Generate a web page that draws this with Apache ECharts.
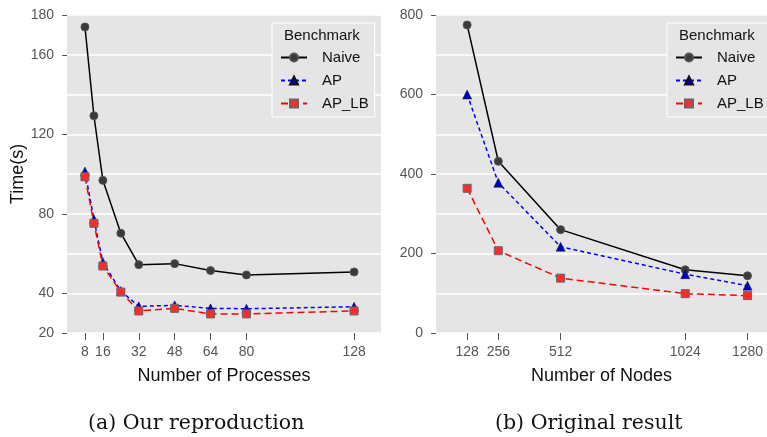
<!DOCTYPE html>
<html>
<head>
<meta charset="utf-8">
<script src="https://cdn.jsdelivr.net/npm/echarts@6/dist/echarts.min.js"></script>
<style>
  html, body { margin: 0; padding: 0; background: #fff; }
  #chart { width: 767px; height: 437px; }
</style>
</head>
<body>
<div id="chart"></div>
<script>
// (a) reproduction: processes vs time
const procX = [8, 12, 16, 24, 32, 48, 64, 80, 128];
const procNaive = [174, 129.3, 96.8, 70.2, 54.4, 54.9, 51.4, 49.2, 50.7];
const procAP = [101.2, 77.2, 55.6, 41.1, 33.4, 33.9, 32.4, 32.2, 33.2];
const procAPLB = [98.6, 75.2, 53.7, 40.6, 31.1, 32.4, 29.6, 29.6, 31.1];
const procTicks = [8, 16, 32, 48, 64, 80, 128];
const timeTicks = [20, 40, 80, 120, 160, 180];

// (b) original: nodes vs time
const nodeX = [128, 256, 512, 1024, 1280];
const nodeNaive = [775, 432, 260, 159, 144];
const nodeAP = [600, 378, 217, 148, 119];
const nodeAPLB = [364, 207, 138, 99, 94];
const nodeTicks = [128, 256, 512, 1024, 1280];
const nodeYTicks = [0, 200, 400, 600, 800];

const names = ['Naive', 'AP', 'AP_LB'];
const font = 'Liberation Sans, Arial, sans-serif';
const tickColor = '#555';

const zip = (xs, ys) => xs.map((x, i) => [x, ys[i]]);

const styles = {
    Naive: {
        symbol: 'circle', symbolSize: 8,
        itemStyle: { color: '#3a3a3a', borderColor: '#555', borderWidth: 1 },
        lineStyle: { color: '#000', width: 1.5, type: 'solid' }
    },
    AP: {
        symbol: 'triangle', symbolSize: 9,
        itemStyle: { color: '#0000cc', borderColor: '#111', borderWidth: 0.5 },
        lineStyle: { color: '#0000ff', width: 1.5, type: [4, 3] }
    },
    AP_LB: {
        symbol: 'rect', symbolSize: 8,
        itemStyle: { color: '#ff2a2a', borderColor: '#666', borderWidth: 1 },
        lineStyle: { color: '#ff0000', width: 1.5, type: [7, 4] }
    }
};

const mkSeries = (name, data, idx) => Object.assign({
    name: name,
    type: 'line',
    xAxisIndex: idx,
    yAxisIndex: idx,
    data: data,
    showAllSymbol: true,
    animation: false
}, styles[name]);

const xAxisBase = (min, max, ticks, name) => ({
    type: 'value',
    min: min,
    max: max,
    name: name,
    nameLocation: 'middle',
    nameGap: 34,
    nameTextStyle: { color: '#111', fontSize: 18, fontFamily: font },
    axisLine: { show: false },
    splitLine: { show: false },
    axisTick: { show: true, customValues: ticks, length: 7, lineStyle: { color: tickColor } },
    axisLabel: { customValues: ticks, color: tickColor, fontSize: 14, fontFamily: font, margin: 12,
                 formatter: v => String(v) }
});

// labelled axis: ticks/labels only at the listed values
const yAxisLabelled = (min, max, interval, ticks, grid) => ({
    type: 'value',
    gridIndex: grid,
    min: min,
    max: max,
    interval: interval,
    axisLine: { show: false },
    splitLine: { show: false },
    axisTick: { show: true, customValues: ticks, length: 5, lineStyle: { color: tickColor } },
    axisLabel: { customValues: ticks, color: tickColor, fontSize: 14, fontFamily: font, margin: 13 }
});

// hidden twin axis that only draws the white grid lines
const yAxisGrid = (min, max, interval, grid) => ({
    type: 'value',
    gridIndex: grid,
    min: min,
    max: max,
    interval: interval,
    axisLine: { show: false },
    axisTick: { show: false },
    axisLabel: { show: false },
    splitLine: { show: true, lineStyle: { color: '#fff', width: 1.5 } }
});

const legendBase = (left) => ({
    left: left,
    top: 23,
    orient: 'vertical',
    data: names,
    itemWidth: 26,
    itemHeight: 10,
    itemGap: 8,
    padding: [27, 6, 6, 8],
    backgroundColor: '#e5e5e5',
    borderColor: '#fff',
    borderWidth: 1,
    textStyle: { color: '#111', fontSize: 15, fontFamily: font, padding: [0, 0, 0, 10] },
    selectedMode: false
});

const chart = echarts.init(document.getElementById('chart'));
chart.setOption({
    backgroundColor: '#fff',
    animation: false,
    grid: [
        { left: 67, top: 15, width: 314, height: 318, backgroundColor: '#e5e5e5', show: true, borderWidth: 0 },
        { left: 436, top: 15, width: 331, height: 318, backgroundColor: '#e5e5e5', show: true, borderWidth: 0 }
    ],
    xAxis: [
        Object.assign(xAxisBase(0, 140, procTicks, 'Number of Processes'), { gridIndex: 0 }),
        Object.assign(xAxisBase(0, 1360, nodeTicks, 'Number of Nodes'), { gridIndex: 1 })
    ],
    yAxis: [
        Object.assign(yAxisLabelled(20, 180, 20, timeTicks, 0), {
            name: 'Time(s)',
            nameLocation: 'middle',
            nameGap: 40,
            nameTextStyle: { color: '#111', fontSize: 18, fontFamily: font }
        }),
        yAxisLabelled(0, 800, 100, nodeYTicks, 1),
        yAxisGrid(20, 180, 20, 0),
        yAxisGrid(0, 800, 100, 1)
    ],
    legend: [legendBase(272), legendBase(667)],
    title: [
        { text: 'Benchmark', left: 284, top: 28, padding: 0, z: 10,
          textStyle: { color: '#111', fontSize: 15, fontWeight: 'normal', fontFamily: font } },
        { text: 'Benchmark', left: 679, top: 28, padding: 0, z: 10,
          textStyle: { color: '#111', fontSize: 15, fontWeight: 'normal', fontFamily: font } }
    ],
    graphic: [
        { type: 'text', left: 88, top: 413,
          style: { text: '(a) Our reproduction', fill: '#111', font: '20.5px "DejaVu Serif", serif' } },
        { type: 'text', left: 495, top: 413,
          style: { text: '(b) Original result', fill: '#111', font: '20.5px "DejaVu Serif", serif' } }
    ],
    series: [
        mkSeries('Naive', zip(procX, procNaive), 0),
        mkSeries('AP', zip(procX, procAP), 0),
        mkSeries('AP_LB', zip(procX, procAPLB), 0),
        mkSeries('Naive', zip(nodeX, nodeNaive), 1),
        mkSeries('AP', zip(nodeX, nodeAP), 1),
        mkSeries('AP_LB', zip(nodeX, nodeAPLB), 1)
    ]
});
</script>
</body>
</html>
